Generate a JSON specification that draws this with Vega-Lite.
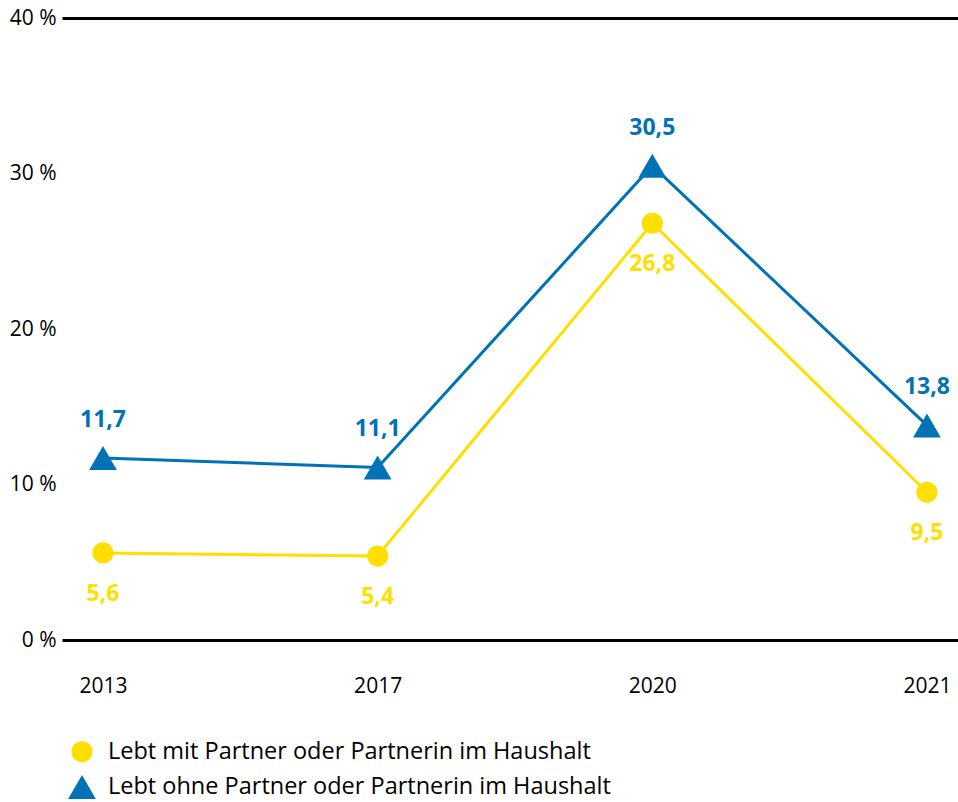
{
  "$schema": "https://vega.github.io/schema/vega-lite/v6.json",
  "autosize": {"type": "none"},
  "padding": {"left": 62, "top": 18, "right": 0, "bottom": 162},
  "width": 896,
  "height": 622,
  "config": {
    "view": {"stroke": null},
    "font": "Open Sans",
    "axis": {"labelFont": "Open Sans", "labelColor": "#000000"}
  },
  "data": {
    "values": [
      {"jahr": "2013", "gruppe": "Lebt mit Partner oder Partnerin im Haushalt", "wert": 5.6, "label": "5,6"},
      {"jahr": "2017", "gruppe": "Lebt mit Partner oder Partnerin im Haushalt", "wert": 5.4, "label": "5,4"},
      {"jahr": "2020", "gruppe": "Lebt mit Partner oder Partnerin im Haushalt", "wert": 26.8, "label": "26,8"},
      {"jahr": "2021", "gruppe": "Lebt mit Partner oder Partnerin im Haushalt", "wert": 9.5, "label": "9,5"},
      {"jahr": "2013", "gruppe": "Lebt ohne Partner oder Partnerin im Haushalt", "wert": 11.7, "label": "11,7"},
      {"jahr": "2017", "gruppe": "Lebt ohne Partner oder Partnerin im Haushalt", "wert": 11.1, "label": "11,1"},
      {"jahr": "2020", "gruppe": "Lebt ohne Partner oder Partnerin im Haushalt", "wert": 30.5, "label": "30,5"},
      {"jahr": "2021", "gruppe": "Lebt ohne Partner oder Partnerin im Haushalt", "wert": 13.8, "label": "13,8"}
    ]
  },
  "encoding": {
    "x": {
      "field": "jahr", "type": "ordinal",
      "scale": {"type": "point", "padding": 0.1311, "align": 0.569},
      "axis": {"title": null, "labelAngle": 0, "ticks": false, "domain": false, "labelFontSize": 21, "labelPadding": 35, "grid": false}
    },
    "y": {
      "field": "wert", "type": "quantitative",
      "scale": {"domain": [0, 40], "nice": false},
      "axis": {
        "title": null, "values": [0, 10, 20, 30, 40], "labelExpr": "datum.value + ' %'",
        "ticks": false, "domain": false, "labelFontSize": 21, "labelPadding": 6,
        "grid": true, "gridColor": "#000000", "gridWidth": 3,
        "gridOpacity": {"condition": {"test": "datum.value == 0 || datum.value == 40", "value": 1}, "value": 0}
      }
    }
  },
  "layer": [
    {
      "mark": {"type": "line", "strokeWidth": 3},
      "encoding": {
        "color": {"field": "gruppe", "type": "nominal",
          "scale": {"domain": ["Lebt mit Partner oder Partnerin im Haushalt", "Lebt ohne Partner oder Partnerin im Haushalt"], "range": ["#FFDF00", "#0072B5"]}}
      }
    },
    {
      "mark": {"type": "point", "filled": true, "opacity": 1},
      "encoding": {
        "color": {"field": "gruppe", "type": "nominal",
          "scale": {"domain": ["Lebt mit Partner oder Partnerin im Haushalt", "Lebt ohne Partner oder Partnerin im Haushalt"], "range": ["#FFDF00", "#0072B5"]},
          "legend": {"title": null, "orient": "none", "legendX": 6, "legendY": 722, "direction": "vertical", "labelFontSize": 23.5, "labelFont": "Open Sans", "labelColor": "#000000", "labelOffset": 12, "rowPadding": 9, "labelLimit": 700, "symbolStrokeWidth": 0, "symbolOpacity": 1}},
        "shape": {"field": "gruppe", "type": "nominal",
          "scale": {"domain": ["Lebt mit Partner oder Partnerin im Haushalt", "Lebt ohne Partner oder Partnerin im Haushalt"], "range": ["circle", "triangle-up"]}},
        "size": {"field": "gruppe", "type": "nominal",
          "scale": {"domain": ["Lebt mit Partner oder Partnerin im Haushalt", "Lebt ohne Partner oder Partnerin im Haushalt"], "range": [450, 770]}}
      }
    },
    {
      "transform": [{"filter": "datum.gruppe == 'Lebt ohne Partner oder Partnerin im Haushalt'"}],
      "mark": {"type": "text", "dy": -38, "fontSize": 23, "fontWeight": "bold", "color": "#0072B5", "baseline": "middle"},
      "encoding": {"text": {"field": "label"}}
    },
    {
      "transform": [{"filter": "datum.gruppe == 'Lebt mit Partner oder Partnerin im Haushalt'"}],
      "mark": {"type": "text", "dy": 41, "fontSize": 23, "fontWeight": "bold", "color": "#FFDF00", "baseline": "middle"},
      "encoding": {"text": {"field": "label"}}
    }
  ]
}
